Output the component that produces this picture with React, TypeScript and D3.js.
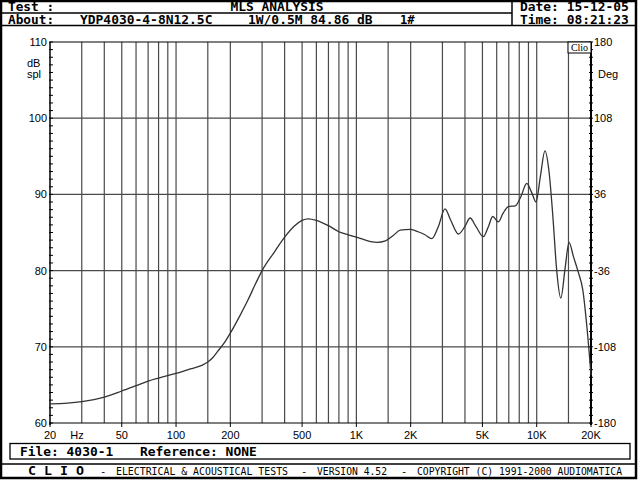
import React from "react";
import * as d3 from "d3";

const freqs = [20, 25, 30, 40, 50, 60, 70, 80, 100, 120, 140, 150, 160, 170, 185, 200, 225, 250, 275, 300, 350, 400, 450, 500, 540, 600, 700, 800, 900, 1000, 1200, 1300, 1450, 1600, 1750, 2000, 2200, 2400, 2620, 2850, 3100, 3350, 3680, 4000, 4270, 4600, 5060, 5400, 5700, 6120, 6500, 6960, 7600, 8200, 8800, 9400, 9900, 10500, 11100, 11700, 12300, 12900, 13600, 14400, 15100, 16000, 17000, 18000, 19000, 20000];
const spl = [62.5, 62.6, 62.8, 63.4, 64.2, 64.9, 65.5, 65.9, 66.5, 67.1, 67.6, 68.0, 68.6, 69.4, 70.5, 71.8, 74.0, 76.1, 78.2, 80.0, 82.4, 84.4, 85.8, 86.6, 86.8, 86.6, 85.9, 85.1, 84.7, 84.4, 83.8, 83.7, 83.9, 84.6, 85.3, 85.4, 85.1, 84.7, 84.2, 85.8, 88.1, 86.5, 84.8, 85.8, 86.9, 85.8, 84.45, 85.8, 87.1, 86.4, 87.5, 88.4, 88.5, 89.8, 91.45, 90.2, 89.0, 92.5, 95.7, 93.0, 87.0, 80.1, 76.4, 80.5, 83.7, 81.8, 79.8, 77.5, 72.5, 66.3];

const gridFreqs = [30, 40, 50, 60, 70, 80, 90, 100, 150, 200, 300, 400, 500, 600, 700, 800, 900, 1000, 1500, 2000, 3000, 4000, 5000, 6000, 7000, 8000, 9000, 10000, 15000];
const xTickValues = [20, 50, 100, 200, 500, 1000, 2000, 5000, 10000, 20000];
const xTickLabels = ["20", "50", "100", "200", "500", "1K", "2K", "5K", "10K", "20K"];
const dbTicks = [60, 70, 80, 90, 100, 110];
const degLabels = ["-180", "-108", "-36", "36", "108", "180"];
const minorDb = d3.range(60, 111, 1);

const MONO = "'DejaVu Sans Mono', 'Liberation Mono', monospace";
const SANS = "'Liberation Sans', Arial, sans-serif";
const CW = 7.85;

function H({ x, y, s, anchor }: { x: number; y: number; s: string; anchor?: string }) {
  return (
    <text
      x={x}
      y={y}
      textAnchor={anchor || "start"}
      fontFamily={MONO}
      fontSize={11.5}
      fontWeight={700}
      fill="#000"
      textLength={s.length * CW - 1}
      lengthAdjust="spacingAndGlyphs"
    >
      {s}
    </text>
  );
}

export default function App() {
  const x = d3.scaleLog().domain([20, 20000]).range([50, 591]);
  const y = d3.scaleLinear().domain([60, 110]).range([423, 42]);
  const pts = freqs.map((f, i) => [f, spl[i]] as [number, number]);
  const line = d3
    .line<[number, number]>()
    .x((d) => x(d[0]))
    .y((d) => y(d[1]))
    .curve(d3.curveMonotoneX);

  const lab = { fontFamily: SANS, fontSize: 11, fill: "#000" };

  return (
    <svg
      width={640}
      height={480}
      style={{ position: "absolute", left: 0, top: 0, background: "#fff" }}
    >
      <rect x={0} y={0} width={640} height={480} fill="#fff" />
      {/* outer frame */}
      <rect x={1} y={1} width={635} height={477} fill="none" stroke="#000" strokeWidth={2.5} />
      {/* header */}
      <line x1={0} x2={512} y1={13} y2={13} stroke="#000" strokeWidth={1.5} />
      <line x1={0} x2={637} y1={25.5} y2={25.5} stroke="#000" strokeWidth={1.5} />
      <line x1={512} x2={512} y1={0} y2={25.5} stroke="#000" strokeWidth={1.5} />
      <H x={8} y={11} s="Test :" />
      <H x={277} y={11} s="MLS ANALYSIS" anchor="middle" />
      <H x={520} y={11} s="Date: 15-12-05" />
      <H x={8} y={23.5} s="About:" />
      <H x={80} y={23.5} s="YDP4030-4-8N12.5C" />
      <H x={248} y={23.5} s="1W/0.5M 84.86 dB" />
      <H x={400} y={23.5} s="1#" />
      <H x={520} y={23.5} s="Time: 08:21:23" />

      {/* grid */}
      {gridFreqs.map((f) => (
        <line key={"g" + f} x1={x(f)} x2={x(f)} y1={42} y2={423} stroke="#4a4a4a" strokeWidth={1.2} />
      ))}
      {dbTicks.slice(1, -1).map((d) => (
        <line key={"h" + d} x1={50} x2={591} y1={y(d)} y2={y(d)} stroke="#4a4a4a" strokeWidth={1.2} />
      ))}
      {/* plot borders */}
      <line x1={50} x2={591} y1={42} y2={42} stroke="#000" strokeWidth={1.2} />
      <line x1={50} x2={591} y1={423} y2={423} stroke="#000" strokeWidth={1.2} />
      <line x1={50} x2={50} y1={42} y2={425} stroke="#000" strokeWidth={1.5} />
      <line x1={591} x2={591} y1={42} y2={425} stroke="#000" strokeWidth={2} />
      {minorDb.map((d) => (
        <g key={"m" + d}>
          <line x1={49} x2={53} y1={y(d)} y2={y(d)} stroke="#000" strokeWidth={1} />
          <line x1={589} x2={593} y1={y(d)} y2={y(d)} stroke="#000" strokeWidth={1} />
        </g>
      ))}
      {xTickValues.map((f) => (
        <line key={"t" + f} x1={x(f)} x2={x(f)} y1={423} y2={427} stroke="#000" strokeWidth={1} />
      ))}

      {/* Clio box */}
      <rect x={568} y={42} width={23} height={11} fill="#fff" stroke="#000" strokeWidth={1} />
      <text x={579.5} y={51} textAnchor="middle" fontFamily="'Liberation Serif', serif" fontSize={10} fill="#000">Clio</text>

      {/* curve */}
      <path d={line(pts) || ""} fill="none" stroke="#333" strokeWidth={1.3} />

      {/* axis labels */}
      {dbTicks.map((d) => (
        <text key={"l" + d} x={47} y={y(d) + 4} textAnchor="end" {...lab}>{d}</text>
      ))}
      {degLabels.map((s, i) => (
        <text key={"r" + s} x={594} y={y(dbTicks[i]) + 4} {...lab}>{s}</text>
      ))}
      <text x={27} y={67} {...lab}>dB</text>
      <text x={27} y={78} {...lab}>spl</text>
      <text x={598} y={78} {...lab}>Deg</text>
      {xTickValues.map((f, i) => (
        <text key={"x" + f} x={x(f)} y={439} textAnchor="middle" {...lab}>{xTickLabels[i]}</text>
      ))}
      <text x={77} y={439} textAnchor="middle" {...lab}>Hz</text>

      {/* footer */}
      <rect x={10} y={443.5} width={620} height={15.5} fill="none" stroke="#000" strokeWidth={1.3} />
      <H x={20} y={456} s="File: 4030-1" />
      <H x={140} y={456} s="Reference: NONE" />
      <line x1={0} x2={637} y1={464} y2={464} stroke="#000" strokeWidth={1.5} />
      <text x={28} y={475} textLength={56} lengthAdjust="spacingAndGlyphs" fontFamily={MONO} fontSize={12} fontWeight={700} fill="#000">C L I O</text>
      <g fontFamily={MONO} fontSize={10.5} fill="#000">
        <text x={100} y={475}>-</text>
        <text x={116} y={475} textLength={172} lengthAdjust="spacingAndGlyphs">ELECTRICAL &amp; ACOUSTICAL TESTS</text>
        <text x={301} y={475}>-</text>
        <text x={317} y={475} textLength={70} lengthAdjust="spacingAndGlyphs">VERSION 4.52</text>
        <text x={401} y={475}>-</text>
        <text x={417} y={475} textLength={205} lengthAdjust="spacingAndGlyphs">COPYRIGHT (C) 1991-2000 AUDIOMATICA</text>
      </g>
    </svg>
  );
}
